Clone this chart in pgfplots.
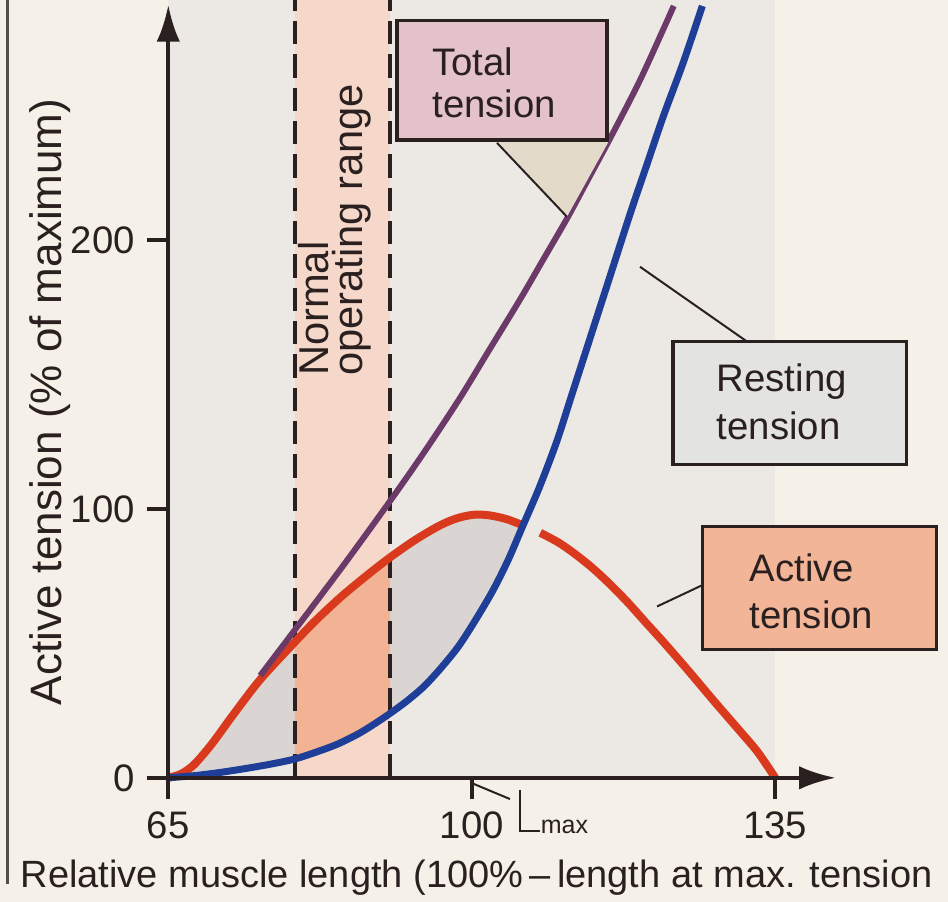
\documentclass[border=0pt]{standalone}
\usepackage{pgfplots}
\pgfplotsset{compat=1.18}
\usepackage{pgfplotstable}
\usepgfplotslibrary{fillbetween}
\usetikzlibrary{arrows.meta}
\usepackage{fontspec}
\setmainfont{Liberation Sans}

\newcommand{\fs}[1]{\fontsize{#1}{#1}\selectfont}

\definecolor{paper}{HTML}{F6F1E8}
\definecolor{plotbg}{HTML}{ECE8E4}
\definecolor{band}{HTML}{F6D8CA}
\definecolor{gapgray}{HTML}{DAD5D2}
\definecolor{actfill}{HTML}{F2B394}
\definecolor{redc}{HTML}{D93A1E}
\definecolor{bluec}{HTML}{1F3E98}
\definecolor{purplec}{HTML}{6B3A68}
\definecolor{totbox}{HTML}{E4C2CA}
\definecolor{restbox}{HTML}{E3E3E1}
\definecolor{actbox}{HTML}{F3B598}
\definecolor{beige}{HTML}{E3DACA}
\definecolor{ink}{HTML}{2A2020}

% active tension, rising part (up to the crossing with the resting curve)
\pgfplotstableread{
x y
65 0
66.5 1.5
68 5
70 12.5
72.5 23.5
75.6 36.5
79.6 50.5
82 58.5
85 67.5
88 75.5
90.6 82
93.5 88.5
96.3 93.8
98.3 96.5
100.2 97.8
102 97.6
104 96.2
105.8 94
}\actA

% active tension, falling part
\pgfplotstableread{
x y
107.9 91.1
110 87.5
112 83
114 77.8
116 71.8
118 65.2
120 58
122.3 49.8
125.2 39
128 28.3
130.9 17.5
133 9.5
135 0
}\actB

% resting tension
\pgfplotstableread{
x y
65 0
68 0.8
71 2
74 3.5
77 5.2
79.6 7
82 9.5
84.5 12.5
87 16.5
89 20.5
90.6 24
92.5 28.5
94.5 34
96.5 41
98.5 49
100.5 59
102.5 70
104.2 81
105.8 93
107.8 108
109.8 125
111.5 142
113.3 160
115.8 185
118.3 210
120.2 228
122.1 246
124.4 266
126.6 287
}\restT

% total tension
\pgfplotstableread{
x y
75.6 38
79.6 55
85.2 79
90.6 103
94.5 121
98.6 141
102 159
105.6 178
108.3 193
111 208
113.5 223
116 238
119.5 260
123.3 287
}\totalT

\begin{document}
\begin{tikzpicture}
\begin{axis}[
  set layers=axis on top,
  scale only axis, width=200.3pt, height=231.9pt,
  xmin=65, xmax=142, ymin=0, ymax=287.4,
  axis lines=left, axis on top, clip=false,
  axis line style={ink, line width=1.3pt},
  x axis line style={-{Latex[length=11pt,width=7pt]}},
  y axis line style={-{Latex[length=11pt,width=7pt]}},
  xtick={65,100,135}, ytick={0,100,200},
  tick align=outside, major tick length=6.5pt,
  tick style={ink, line width=1.1pt},
  ticklabel style={font=\fs{11.5}, text=ink},
  /pgf/number format/assume math mode=true,
]
% page and plot backgrounds
\begin{pgfonlayer}{axis background}
\fill[paper] (axis cs:45.59,-46.1) rectangle (axis cs:154.93,289.2);
\fill[plotbg] (axis cs:65,0) rectangle (axis cs:135,289.2);
\end{pgfonlayer}
\coordinate (bbSW) at (axis cs:45.59,-46.1);
\coordinate (bbNE) at (axis cs:154.93,289.2);

% normal operating range band
\addplot[draw=none, fill=band, forget plot, on layer=axis background] coordinates {(79.6,0) (79.6,289.2) (90.6,289.2) (90.6,0)} -- cycle;

% invisible copies for the fills
\addplot[draw=none, smooth, name path=A, forget plot] table {\actA};
\addplot[draw=none, smooth, name path=R, forget plot] table {\restT};
\addplot[gapgray, forget plot] fill between[of=A and R, soft clip={domain=65:79.6}];
\addplot[gapgray, forget plot] fill between[of=A and R, soft clip={domain=90.6:105.8}];
\addplot[actfill, forget plot] fill between[of=A and R, soft clip={domain=79.6:90.6}];

% dashed limits of the range
\addplot[ink, line width=1.2pt, dash pattern=on 7pt off 3pt] coordinates {(79.6,0) (79.6,289.2)};
\addplot[ink, line width=1.2pt, dash pattern=on 7pt off 3pt] coordinates {(90.6,0) (90.6,289.2)};

% curves
\addplot[redc, line width=2.4pt, smooth] table {\actA};
\addplot[redc, line width=2.4pt, smooth] table {\actB};
\addplot[purplec, line width=1.8pt, smooth] table {\totalT};
\addplot[bluec, line width=2.1pt, smooth] table {\restT};

% left gutter line of the page
\draw[ink!80, line width=0.9pt] (axis cs:46.51,-39.4) -- (axis cs:46.51,289.2);

% band text
\node[rotate=90, anchor=base west, inner sep=0, font=\fs{12.5}, text=ink] at (axis cs:83.5,149.2) {Normal};
\node[rotate=90, anchor=base west, inner sep=0, font=\fs{12.5}, text=ink] at (axis cs:87.4,149.2) {operating range};

% label boxes
\fill[beige] (axis cs:102.91,237.2) -- (axis cs:115.9,237.2) -- (axis cs:110.98,208.6) -- cycle;
\draw[ink, line width=0.6pt] (axis cs:102.91,236.1) -- (axis cs:110.98,208.6);
\draw[ink, line width=1pt, fill=totbox] (axis cs:91.38,237.2) rectangle (axis cs:115.6,281.5);
\node[anchor=base west, inner sep=0, font=\fs{11.5}, text=ink] at (axis cs:95.38,261.3) {Total};
\node[anchor=base west, inner sep=0, font=\fs{11.5}, text=ink] at (axis cs:95.38,245.4) {tension};

\draw[ink, line width=0.6pt] (axis cs:119.41,190.0) -- (axis cs:131.75,162.2);
\draw[ink, line width=1pt, fill=restbox] (axis cs:123.21,116.4) rectangle (axis cs:150.17,162.2);
\node[anchor=base west, inner sep=0, font=\fs{11.5}, text=ink] at (axis cs:128.19,143.5) {Resting};
\node[anchor=base west, inner sep=0, font=\fs{11.5}, text=ink] at (axis cs:128.19,125.7) {tension};

\draw[ink, line width=0.6pt] (axis cs:121.37,63.7) -- (axis cs:126.64,71.7);
\draw[ink, line width=1pt, fill=actbox] (axis cs:126.64,47.6) rectangle (axis cs:153.63,93.4);
\node[anchor=base west, inner sep=0, font=\fs{11.5}, text=ink] at (axis cs:131.98,73.0) {Active};
\node[anchor=base west, inner sep=0, font=\fs{11.5}, text=ink] at (axis cs:131.98,55.7) {tension};

% L max marker
\draw[ink, line width=0.6pt] (axis cs:100.03,-2) -- (axis cs:104.41,-7.9);
\draw[ink, line width=0.7pt] (axis cs:105.57,-4.5) |- (axis cs:107.87,-19.9);
\node[anchor=base west, inner sep=0, font=\fs{7.5}, text=ink] at (axis cs:107.9,-20.6) {max};

% axis titles
\node[rotate=90, anchor=base, inner sep=0, font=\fs{13.2}, text=ink] at (axis cs:52.74,139.8) {Active tension (\% of maximum)};
\node[anchor=base west, inner sep=0, font=\fs{11.4}, text=ink] at (axis cs:47.9,-40.9) {Relative muscle length (100\%\,--\,length at max. tension};
\end{axis}
\pgfresetboundingbox
\useasboundingbox (bbSW) rectangle (bbNE);
\end{tikzpicture}
\end{document}
